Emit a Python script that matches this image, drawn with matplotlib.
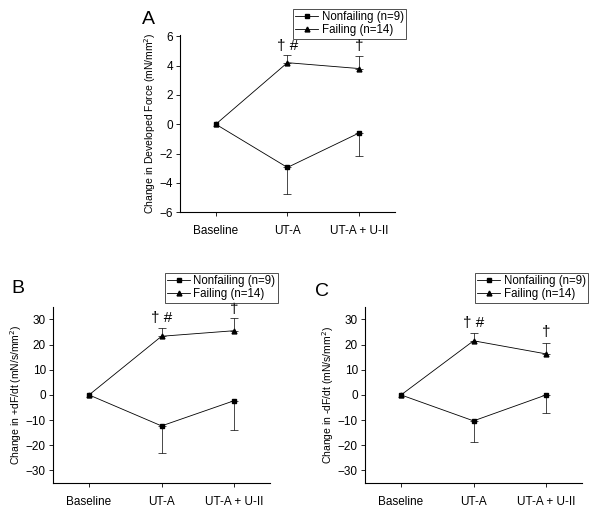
import numpy as np
import matplotlib
matplotlib.use("Agg")
import matplotlib.pyplot as plt
from matplotlib.lines import Line2D

plt.rcParams['font.family'] = ['Liberation Sans', 'DejaVu Sans']

categories = ['Baseline', 'UT-A', 'UT-A + U-II']
x = np.arange(1, len(categories) + 1)

# panel A: change in developed force
a_nonfail = [0, -2.95, -0.6]
a_nonfail_err = [0, 1.8, 1.6]
a_fail = [0, 4.2, 3.8]
a_fail_err = [0, 0.5, 0.85]

# panel B: +dF/dt
b_nonfail = [0, -12.3, -2.3]
b_nonfail_err = [0, 10.7, 11.5]
b_fail = [0, 23.3, 25.5]
b_fail_err = [0, 3.4, 5.2]

# panel C: -dF/dt
c_nonfail = [0, -10.3, 0]
c_nonfail_err = [0, 8.4, 7.3]
c_fail = [0, 21.5, 16.3]
c_fail_err = [0, 3.0, 4.2]

fig = plt.figure(figsize=(6, 5.2), dpi=100)


def panel(rect, nf, nf_err, f, f_err, ylim, yticks, ylabel, marks, leg_anchor):
    ax = fig.add_axes(rect)
    ax.plot(x, nf, color='black', lw=0.6, marker='s', ms=3)
    ax.plot(x, f, color='black', lw=0.6, marker='^', ms=3.5)
    # one-sided error bars (baseline has none)
    zeros = [0, 0]
    ax.errorbar(x[1:], nf[1:], yerr=[nf_err[1:], zeros], fmt='none', ecolor='black',
                elinewidth=0.5, capsize=3, capthick=0.5)
    ax.errorbar(x[1:], f[1:], yerr=[zeros, f_err[1:]], fmt='none', ecolor='black',
                elinewidth=0.5, capsize=3, capthick=0.5)
    for xi, yi, txt in marks:
        ax.text(xi, yi, txt, ha='center', va='center', fontsize=11)
    ax.set_xlim(0.5, 3.5)
    ax.set_ylim(*ylim)
    ax.set_yticks(yticks)
    ax.set_xticks(x)
    ax.set_xticklabels(categories)
    ax.spines['top'].set_visible(False)
    ax.spines['right'].set_visible(False)
    for s in ('left', 'bottom'):
        ax.spines[s].set_linewidth(0.8)
    ax.tick_params(labelsize=8.5, length=3, width=0.6, pad=2)
    ax.tick_params(axis='x', pad=6)
    ax.set_ylabel(ylabel, fontsize=7.5, labelpad=1)
    handles = [Line2D([], [], color='black', lw=0.6, marker='s', ms=3),
               Line2D([], [], color='black', lw=0.6, marker='^', ms=3.5)]
    labels = ['Nonfailing (n=9)', 'Failing (n=14)']
    leg = fig.legend(handles, labels, loc='upper right', bbox_to_anchor=leg_anchor,
                     fontsize=8.3, frameon=True, fancybox=False, edgecolor='black',
                     handlelength=2.0, handletextpad=0.3, labelspacing=0.1,
                     borderpad=0.2, borderaxespad=0)
    leg.get_frame().set_linewidth(0.6)
    return ax


panel([0.300, 0.592, 0.358, 0.341], a_nonfail, a_nonfail_err, a_fail, a_fail_err,
      (-6, 6.1), np.arange(-6, 7, 2),
      'Change in Developed Force (mN/mm$^2$)',
      [(2, 5.35, '† #'), (3, 5.35, '†')], (0.677, 0.983))

panel([0.088, 0.071, 0.3625, 0.339], b_nonfail, b_nonfail_err, b_fail, b_fail_err,
      (-35, 35), np.arange(-30, 31, 10),
      'Change in +dF/dt (mN/s/mm$^2$)',
      [(2, 30.7, '† #'), (3, 34.3, '†')], (0.463, 0.475))

panel([0.608, 0.071, 0.3625, 0.339], c_nonfail, c_nonfail_err, c_fail, c_fail_err,
      (-35, 35), np.arange(-30, 31, 10),
      'Change in -dF/dt (mN/s/mm$^2$)',
      [(2, 28.4, '† #'), (3, 24.8, '†')], (0.980, 0.475))

fig.text(0.248, 0.962, 'A', fontsize=14, ha='center', va='center')
fig.text(0.030, 0.445, 'B', fontsize=14, ha='center', va='center')
fig.text(0.537, 0.440, 'C', fontsize=14, ha='center', va='center')

fig.savefig('out.png', dpi=100)
